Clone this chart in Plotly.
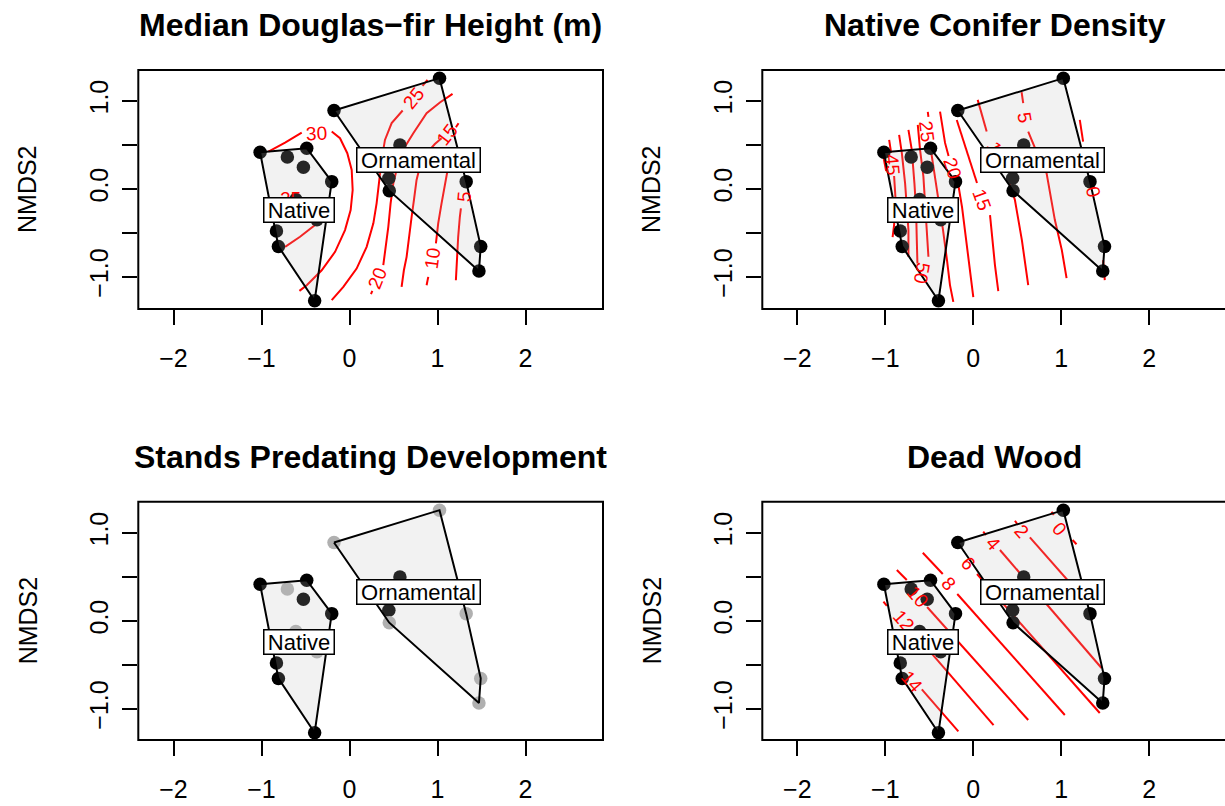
import plotly.graph_objects as go

W, H = 1225, 806
FONT = "Liberation Sans, Arial, Helvetica, sans-serif"

# ---------------- data: NMDS site scores ----------------
site_nmds1 = [1.023, -0.176, -1.016, -0.486, -0.706, -0.524, -0.202, 0.573, 0.447,
              0.452, 1.326, 1.491, 1.471, -0.830, -0.808, -0.396, -0.610, -0.370]
site_nmds2 = [1.258, 0.890, 0.416, 0.462, 0.362, 0.245, 0.082, 0.499, 0.120,
              -0.021, 0.082, -0.654, -0.933, -0.478, -0.654, -1.271, -0.120, -0.350]
site_group = ["Ornamental", "Ornamental", "Native", "Native", "Native", "Native", "Native",
              "Ornamental", "Ornamental", "Ornamental", "Ornamental", "Ornamental", "Ornamental",
              "Native", "Native", "Native", "Native", "Native"]
predates_development = [False, False, True, True, False, True, True, True, True,
                        False, False, False, False, True, True, True, False, False]

groups = ["Ornamental", "Native"]
group_label_x = [0.785, -0.577]
group_label_y = [0.328, -0.243]

panel_titles = ["Median Douglas\u2212fir Height (m)", "Native Conifer Density",
                "Stands Predating Development", "Dead Wood"]

xtick_vals = [-2, -1, 0, 1, 2]
xtick_text = ["\u22122", "\u22121", "0", "1", "2"]
ytick_vals = [-1.0, -0.5, 0.0, 0.5, 1.0]
ytick_text = ["\u22121.0", "", "0.0", "", "1.0"]

# ---------------- fitted surfaces: contour paths (None = break at a label) ----------------
height_cx = [-0.921, -0.732, -0.543, None,
             -0.202, -0.108, -0.025, 0.025, 0.036, 0.013, -0.051, -0.164, -0.316, -0.486, -0.569, None,
             -0.505, -0.373, -0.342, -0.392, -0.562, -0.732, None,
             -0.202, -0.070, 0.081, 0.195, 0.271, 0.308, 0.339, 0.365, 0.403, 0.479, 0.604, None,
             0.830, 0.886, None,
             0.244, 0.259, None,
             0.384, 0.414, 0.441, 0.467, 0.498, 0.554, 0.630, 0.725, 0.876, 1.027, 1.171, None,
             0.592, 0.618, 0.649, 0.675, 0.706, 0.732, 0.762, 0.800, 0.876, 0.970, 1.046, None,
             1.209, 1.239, None,
             0.876, 0.895, None,
             0.982, 1.008, 1.046, 1.084, 1.122, 1.171, 1.198, None,
             1.209, 1.216, 1.235, 1.254, 1.266, None,
             1.322, 1.338]
height_cy = [0.424, 0.526, 0.640, None,
             0.651, 0.575, 0.405, 0.215, -0.013, -0.241, -0.469, -0.716, -0.925, -1.095, -1.159, None,
             -0.146, -0.241, -0.336, -0.412, -0.545, -0.659, None,
             -1.265, -1.114, -0.906, -0.659, -0.392, -0.165, 0.101, 0.329, 0.556, 0.747, 0.890, None,
             1.171, 1.239, None,
             -1.197, -1.159, None,
             -0.867, -0.659, -0.431, -0.165, 0.063, 0.290, 0.480, 0.632, 0.860, 0.981, 1.080, None,
             -1.114, -0.925, -0.773, -0.545, -0.317, -0.127, 0.101, 0.253, 0.405, 0.510, 0.575, None,
             0.700, 0.746, None,
             -1.095, -1.000, None,
             -0.620, -0.393, -0.165, 0.063, 0.253, 0.405, 0.442, None,
             -1.038, -0.849, -0.545, -0.317, -0.222, None,
             0.044, 0.101]
height_lab_text = ["30", "25", "25", "20", "15", "10", "5"]
height_lab_x = [-0.373, -0.675, 0.725, 0.316, 1.114, 0.944, 1.300]
height_lab_y = [0.632, -0.108, 1.030, -1.019, 0.613, -0.791, -0.082]

density_cx = [-1.019, -0.990, None,
              -0.956, -0.934, None,
              -0.900, -0.883, -0.900, -0.917, None,
              -0.843, -0.812, -0.775, -0.752, -0.737, -0.737, None,
              -0.737, -0.699, -0.669, -0.650, -0.642, -0.635, None,
              -0.631, -0.605, -0.567, -0.548, -0.529, -0.510, None,
              -0.517, -0.510, None,
              -0.491, -0.454, -0.397, -0.344, -0.299, -0.265, -0.227, None,
              -0.378, -0.321, -0.281, None,
              -0.191, -0.170, -0.128, -0.083, -0.037, 0.000, None,
              -0.188, -0.075, 0.042, None,
              0.190, 0.209, 0.246, 0.284, None,
              0.050, 0.152, None,
              0.394, 0.473, 0.552, 0.624, None,
              0.549, 0.567, None,
              0.624, 0.681, 0.757, 0.833, 0.927, 1.006, 1.060, None,
              1.210, 1.248, None,
              1.475, 1.494]
density_cy = [0.351, 0.203, None,
              0.556, 0.408, None,
              0.146, -0.127, -0.411, -0.548, None,
              0.613, 0.405, 0.063, -0.240, -0.468, -0.772, None,
              0.670, 0.442, 0.063, -0.240, -0.582, -0.847, None,
              0.727, 0.442, 0.138, -0.184, -0.506, -0.772, None,
              0.875, 0.818, None,
              0.499, 0.252, -0.089, -0.468, -0.810, -1.094, -1.285, None,
              0.878, 0.522, 0.374, None,
              0.090, 0.044, -0.207, -0.582, -0.924, -1.231, None,
              0.783, 0.442, 0.067, None,
              -0.298, -0.506, -0.866, -1.162, None,
              1.011, 0.651, None,
              0.124, -0.127, -0.582, -1.094, None,
              1.100, 0.974, None,
              0.651, 0.519, 0.328, 0.177, -0.355, -0.696, -1.015, None,
              0.784, 0.537, None,
              -0.810, -1.038]
density_lab_text = ["50", "45", "25", "20", "15", "10", "5", "0"]
density_lab_x = [-0.585, -0.919, -0.529, -0.234, 0.099, 0.258, 0.587, 1.361]
density_lab_y = [-0.961, 0.277, 0.651, 0.234, -0.116, 0.419, 0.803, -0.032]

deadwood_cx = [-0.585, -0.170, None,
               -1.021, -0.982, None, -0.695, 0.230, None,
               -0.869, -0.756, None, -0.525, 0.624, None,
               -0.574, -0.347, None, -0.182, 1.040, None,
               0.042, 1.437, None,
               0.113, 0.144, None, 0.303, 1.457, None,
               0.473, 0.499, None, 0.643, 1.210, None,
               0.889, 0.915, None, 1.128, 1.173]
deadwood_cy = [-0.778, -1.255, None,
               0.218, 0.169, None, -0.115, -1.185, None,
               0.578, 0.464, None, 0.157, -1.127, None,
               0.774, 0.532, None, 0.305, -1.070, None,
               0.532, -1.047, None,
               1.013, 0.975, None, 0.805, -0.536, None,
               1.138, 1.101, None, 0.949, 0.305, None,
               1.240, 1.203, None, 0.919, 0.870]
deadwood_lab_text = ["14", "12", "10", "8", "6", "4", "2", "0"]
deadwood_lab_x = [-0.699, -0.794, -0.635, -0.284, -0.057, 0.227, 0.549, 0.984]
deadwood_lab_y = [-0.691, 0.002, 0.274, 0.419, 0.654, 0.881, 1.013, 1.040]

# label orientation along the contour (degrees, clockwise)
height_lab_angle = [-3, 0, -51, -68, -52, -82, -85]
density_lab_angle = [100, 85, 83, 72, 70, 65, 80, 78]
deadwood_lab_angle = [49, 49, 49, 49, 49, 49, 49, 49]

# ---------------- layout geometry (pixels) ----------------
SCALE = 88.0
cols = [(138.3, 603.0, 349.5), (762.3, 1227.0, 973.3)]   # left, right, x=0 pixel
rows = [(70.0, 309.0, 188.85), (501.7, 740.0, 620.85)]   # top, bottom, y=0 pixel
panel_pos = [(0, 0), (1, 0), (0, 1), (1, 1)]


def convex_hull(pts):
    pts = sorted(set(pts))
    if len(pts) < 3:
        return pts

    def cross(o, a, b):
        return (a[0] - o[0]) * (b[1] - o[1]) - (a[1] - o[1]) * (b[0] - o[0])
    lower, upper = [], []
    for p in pts:
        while len(lower) >= 2 and cross(lower[-2], lower[-1], p) <= 0:
            lower.pop()
        lower.append(p)
    for p in reversed(pts):
        while len(upper) >= 2 and cross(upper[-2], upper[-1], p) <= 0:
            upper.pop()
        upper.append(p)
    return lower[:-1] + upper[:-1]


fig = go.Figure()
annotations = []
shapes = []

contours = [
    (height_cx, height_cy, height_lab_text, height_lab_x, height_lab_y, height_lab_angle),
    (density_cx, density_cy, density_lab_text, density_lab_x, density_lab_y, density_lab_angle),
    None,
    (deadwood_cx, deadwood_cy, deadwood_lab_text, deadwood_lab_x, deadwood_lab_y, deadwood_lab_angle),
]

for k in range(4):
    ci, ri = panel_pos[k]
    left, right, x0 = cols[ci]
    top, bottom, y0 = rows[ri]
    sfx = "" if k == 0 else str(k + 1)
    xa, ya = "x" + sfx, "y" + sfx
    r_clip = min(right, W)
    fig.layout["xaxis" + sfx] = dict(
        domain=[left / W, r_clip / W], range=[(left - x0) / SCALE, (r_clip - x0) / SCALE],
        anchor=ya, showgrid=False, zeroline=False, showline=False, fixedrange=True,
        tickmode="array", tickvals=xtick_vals, ticktext=xtick_text, ticks="outside",
        ticklen=15, tickwidth=1.8, tickcolor="black", ticklabelstandoff=12,
        tickfont=dict(family=FONT, size=25, color="black"))
    fig.layout["yaxis" + sfx] = dict(
        domain=[1 - bottom / H, 1 - top / H], range=[(y0 - bottom) / SCALE, (y0 - top) / SCALE],
        anchor=xa, showgrid=False, zeroline=False, showline=False, fixedrange=True,
        tickmode="array", tickvals=ytick_vals, ticktext=ytick_text, ticks="outside",
        ticklen=15, tickwidth=1.8, tickcolor="black", tickangle=-90, ticklabelstandoff=4,
        tickfont=dict(family=FONT, size=25, color="black"))

    # fitted surface contours
    c = contours[k]
    if c is not None:
        cx, cy, lt, lx, ly, la = c
        fig.add_trace(go.Scatter(x=cx, y=cy, mode="lines", xaxis=xa, yaxis=ya,
                                 line=dict(color="#ff0000", width=2), connectgaps=False,
                                 hoverinfo="skip", showlegend=False))
        for t, xx, yy, aa in zip(lt, lx, ly, la):
            annotations.append(dict(x=xx, y=yy, xref=xa, yref=ya, text=t, showarrow=False,
                                    textangle=aa, font=dict(family=FONT, size=19, color="#ff0000")))

    # site points
    if k == 2:
        cols_pt = ["black" if p else "#b0b0b0" for p in predates_development]
    else:
        cols_pt = ["black"] * len(site_nmds1)
    fig.add_trace(go.Scatter(x=site_nmds1, y=site_nmds2, mode="markers", xaxis=xa, yaxis=ya,
                             marker=dict(size=13.5, color=cols_pt, line=dict(width=0)),
                             hoverinfo="skip", showlegend=False))

    # group hulls (translucent fill drawn over the points)
    for g in groups:
        pts = [(x, y) for x, y, gg in zip(site_nmds1, site_nmds2, site_group) if gg == g]
        hull = convex_hull(pts)
        hx = [p[0] for p in hull] + [hull[0][0]]
        hy = [p[1] for p in hull] + [hull[0][1]]
        fig.add_trace(go.Scatter(x=hx, y=hy, mode="lines", fill="toself", xaxis=xa, yaxis=ya,
                                 fillcolor="rgba(190,190,190,0.2)",
                                 line=dict(color="black", width=2),
                                 hoverinfo="skip", showlegend=False))

    # plot box
    shapes.append(dict(type="rect", xref="paper", yref="paper",
                       x0=left / W, x1=right / W, y0=1 - bottom / H, y1=1 - top / H,
                       line=dict(color="black", width=2), fillcolor="rgba(0,0,0,0)", layer="above"))

    # title
    annotations.append(dict(x=(left + right) / 2 / W, y=1 - (top - 45) / H, xref="paper", yref="paper",
                            text="<b>" + panel_titles[k] + "</b>", showarrow=False,
                            xanchor="center", yanchor="middle",
                            font=dict(family=FONT, size=32, color="black")))
    # y-axis title
    annotations.append(dict(x=(left - 110.8) / W, y=1 - (top + bottom) / 2 / H, xref="paper", yref="paper",
                            text="NMDS2", showarrow=False, textangle=-90,
                            xanchor="center", yanchor="middle",
                            font=dict(family=FONT, size=25, color="black")))

# group labels last so they sit on top
for k in range(4):
    sfx = "" if k == 0 else str(k + 1)
    for g, gx, gy in zip(groups, group_label_x, group_label_y):
        annotations.append(dict(x=gx, y=gy, xref="x" + sfx, yref="y" + sfx, text=g, showarrow=False,
                                bgcolor="white", bordercolor="black", borderwidth=1.5, borderpad=1,
                                width=120 if g == "Ornamental" else 67, height=21,
                                font=dict(family=FONT, size=22, color="black")))

fig.update_layout(width=W, height=H, autosize=False, margin=dict(l=0, r=0, t=0, b=0),
                  paper_bgcolor="white", plot_bgcolor="white", showlegend=False,
                  annotations=annotations, shapes=shapes)

fig.write_html("out.html")
